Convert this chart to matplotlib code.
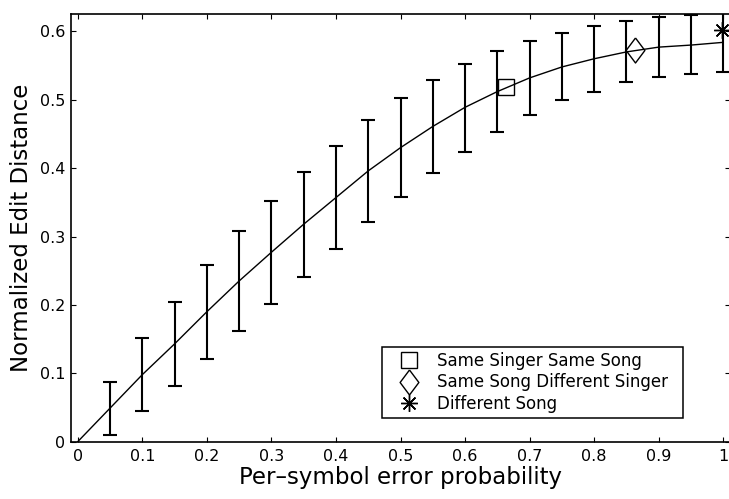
import numpy as np
import matplotlib.pyplot as plt
from matplotlib.lines import Line2D

plt.rcParams['font.family'] = ['DejaVu Sans']

# per-symbol error probability
p = [0.0, 0.05, 0.1, 0.15, 0.2, 0.25, 0.3, 0.35, 0.4, 0.45, 0.5,
     0.55, 0.6, 0.65, 0.7, 0.75, 0.8, 0.85, 0.9, 0.95, 1.0]
# mean normalized edit distance
mean_d = [0.0, 0.049, 0.098, 0.143, 0.19, 0.235, 0.277, 0.318, 0.357, 0.396, 0.43,
          0.461, 0.489, 0.512, 0.532, 0.548, 0.56, 0.570, 0.577, 0.58, 0.584]
# error bar limits (from p = 0.05)
low_d = [0.01, 0.045, 0.081, 0.121, 0.162, 0.201, 0.241, 0.282, 0.322, 0.358,
         0.393, 0.424, 0.453, 0.478, 0.499, 0.512, 0.526, 0.533, 0.537, 0.541]
high_d = [0.088, 0.151, 0.205, 0.259, 0.308, 0.352, 0.395, 0.433, 0.470, 0.502,
          0.529, 0.553, 0.571, 0.586, 0.597, 0.608, 0.615, 0.621, 0.624, 0.630]

# reference points
pt_labels = ['Same Singer Same Song', 'Same Song Different Singer', 'Different Song']
pt_x = [0.663, 0.863, 0.998]
pt_y = [0.518, 0.573, 0.602]

diamond = [(0, 1), (0.75, 0), (0, -1), (-0.75, 0), (0, 1)]
markers = ['s', diamond, (8, 2, 0)]
msizes = [11, 18, 12]

fig = plt.figure(figsize=(7.29, 4.99), dpi=100)
ax = fig.add_axes([71 / 729, 57.3 / 499, 659 / 729, 427.4 / 499])

ax.plot(p, mean_d, color='black', lw=1.0)

bx = np.array(p[1:])
bm = np.array(mean_d[1:])
yerr = [bm - np.array(low_d), np.array(high_d) - bm]
ax.errorbar(bx, bm, yerr=yerr, fmt='none', ecolor='black', elinewidth=1.5,
            capsize=4.7, capthick=1.5)

handles = []
for x, y, m, s, lab in zip(pt_x, pt_y, markers, msizes, pt_labels):
    ax.plot([x], [y], linestyle='none', marker=m, markersize=s,
            markerfacecolor='none', markeredgecolor='black', markeredgewidth=1.0,
            clip_on=False)
    handles.append(Line2D([], [], linestyle='none', marker=m, markersize=s,
                          markerfacecolor='none', markeredgecolor='black',
                          markeredgewidth=1.0, label=lab + '  '))

ax.set_xlim(-0.0104, 1.0104)
ax.set_ylim(0, 0.625)
ax.set_xticks(np.arange(0, 1.01, 0.1))
ax.set_xticklabels(['0', '0.1', '0.2', '0.3', '0.4', '0.5', '0.6', '0.7', '0.8', '0.9', '1'])
ax.set_yticks(np.arange(0, 0.61, 0.1))
ax.set_yticklabels(['0', '0.1', '0.2', '0.3', '0.4', '0.5', '0.6'])
ax.tick_params(direction='in', top=True, right=True, length=3.6, width=0.8,
               labelsize=11.5)
ax.tick_params(axis='x', pad=5)
ax.tick_params(axis='y', pad=4)
for sp in ax.spines.values():
    sp.set_linewidth(1.2)

ax.set_xlabel('Per\u2013symbol error probability', fontsize=16.5, labelpad=2)
ax.set_ylabel('Normalized Edit Distance', fontsize=16.5, labelpad=5)

leg = ax.legend(handles=handles, loc='upper left',
                bbox_to_anchor=(382.3 / 729, 1 - 346.7 / 499),
                bbox_transform=fig.transFigure, borderaxespad=0,
                fancybox=False, edgecolor='black', framealpha=1,
                fontsize=12, handlelength=2.63, handletextpad=0.34,
                labelspacing=0.22, borderpad=0.3)
leg.get_frame().set_linewidth(1.1)

fig.savefig('out.png', dpi=100)
